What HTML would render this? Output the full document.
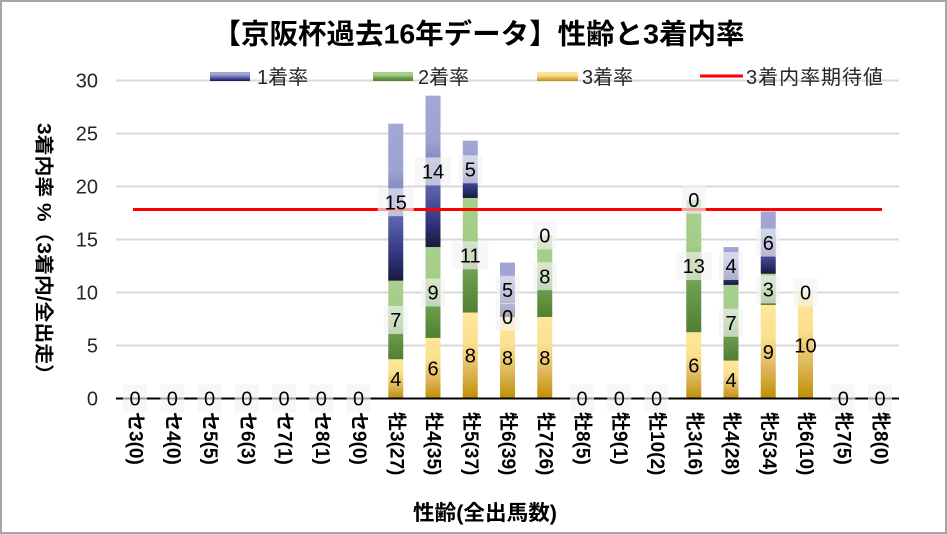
<!DOCTYPE html>
<html>
<head>
<meta charset="utf-8">
<style>
  html,body{margin:0;padding:0;background:#fff;}
  svg{display:block;}
  text{font-family:"Liberation Sans","Noto Sans CJK JP",sans-serif;}
</style>
</head>
<body>
<svg width="947" height="534" viewBox="0 0 947 534" xmlns="http://www.w3.org/2000/svg">
  <defs>
    <linearGradient id="g1" x1="0" y1="0" x2="0" y2="1">
      <stop offset="0" stop-color="#a2a7d6"/>
      <stop offset="0.3" stop-color="#9da2d2"/>
      <stop offset="0.62" stop-color="#5a61a9"/>
      <stop offset="0.85" stop-color="#2f3379"/>
      <stop offset="1" stop-color="#19193a"/>
    </linearGradient>
    <linearGradient id="g2" x1="0" y1="0" x2="0" y2="1">
      <stop offset="0" stop-color="#a9d18e"/>
      <stop offset="0.35" stop-color="#a4cd88"/>
      <stop offset="0.65" stop-color="#6d9e4e"/>
      <stop offset="1" stop-color="#527f33"/>
    </linearGradient>
    <linearGradient id="g3" x1="0" y1="0" x2="0" y2="1">
      <stop offset="0" stop-color="#ffe699"/>
      <stop offset="0.35" stop-color="#fbe08f"/>
      <stop offset="0.7" stop-color="#dcb457"/>
      <stop offset="1" stop-color="#bf9000"/>
    </linearGradient>
  </defs>

  <rect x="0" y="0" width="947" height="534" fill="#fff"/>
  <rect x="1" y="1" width="945" height="532" fill="none" stroke="#a6a6a6" stroke-width="2"/>

  <!-- Title -->
  <text x="478.5" y="43.5" text-anchor="middle" font-size="28" font-weight="bold" fill="#000" textLength="532" lengthAdjust="spacingAndGlyphs">【京阪杯過去16年データ】性齢と3着内率</text>

  <!-- Gridlines -->
  <g stroke="#d9d9d9" stroke-width="2">
    <line x1="116" y1="80.5" x2="899" y2="80.5"/>
    <line x1="116" y1="133.5" x2="899" y2="133.5"/>
    <line x1="116" y1="186.5" x2="899" y2="186.5"/>
    <line x1="116" y1="239.5" x2="899" y2="239.5"/>
    <line x1="116" y1="292.5" x2="899" y2="292.5"/>
    <line x1="116" y1="345.5" x2="899" y2="345.5"/>
  </g>

  <!-- Y tick labels -->
  <g font-size="20" fill="#262626" text-anchor="end">
    <text x="98" y="87.7">30</text>
    <text x="98" y="140.7">25</text>
    <text x="98" y="193.7">20</text>
    <text x="98" y="246.7">15</text>
    <text x="98" y="299.7">10</text>
    <text x="98" y="352.7">5</text>
    <text x="98" y="405.7">0</text>
  </g>

  <!-- Legend -->
  <rect x="210" y="72" width="40" height="9" fill="url(#g1)"/>
  <text x="257" y="84" font-size="20" fill="#262626">1着率</text>
  <rect x="373" y="72" width="40" height="9" fill="url(#g2)"/>
  <text x="418" y="84" font-size="20" fill="#262626">2着率</text>
  <rect x="537" y="72" width="41" height="9" fill="url(#g3)"/>
  <text x="582" y="84" font-size="20" fill="#262626">3着率</text>
  <line x1="700" y1="76" x2="743" y2="76" stroke="#ff0000" stroke-width="3"/>
  <text x="746" y="84" font-size="20" fill="#262626" textLength="137" lengthAdjust="spacing">3着内率期待値</text>

  <!-- Bars -->
  <rect x="388.25" y="359.24" width="15" height="39.26" fill="url(#g3)"/>
  <rect x="388.25" y="280.72" width="15" height="78.52" fill="url(#g2)"/>
  <rect x="388.25" y="123.68" width="15" height="157.04" fill="url(#g1)"/>
  <rect x="425.5" y="337.93" width="15" height="60.57" fill="url(#g3)"/>
  <rect x="425.5" y="247.07" width="15" height="90.86" fill="url(#g2)"/>
  <rect x="425.5" y="95.64" width="15" height="151.43" fill="url(#g1)"/>
  <rect x="462.75" y="312.55" width="15" height="85.95" fill="url(#g3)"/>
  <rect x="462.75" y="197.96" width="15" height="114.59" fill="url(#g2)"/>
  <rect x="462.75" y="140.66" width="15" height="57.30" fill="url(#g1)"/>
  <rect x="500" y="316.96" width="15" height="81.54" fill="url(#g3)"/>
  <rect x="500" y="262.6" width="15" height="54.36" fill="url(#g1)"/>
  <rect x="537.25" y="316.96" width="15" height="81.54" fill="url(#g3)"/>
  <rect x="537.25" y="235.42" width="15" height="81.54" fill="url(#g2)"/>
  <rect x="686.25" y="332.25" width="15" height="66.25" fill="url(#g3)"/>
  <rect x="686.25" y="199.75" width="15" height="132.5" fill="url(#g2)"/>
  <rect x="723.5" y="360.64" width="15" height="37.86" fill="url(#g3)"/>
  <rect x="723.5" y="284.93" width="15" height="75.71" fill="url(#g2)"/>
  <rect x="723.5" y="247.07" width="15" height="37.86" fill="url(#g1)"/>
  <rect x="760.75" y="304.97" width="15" height="93.53" fill="url(#g3)"/>
  <rect x="760.75" y="273.79" width="15" height="31.18" fill="url(#g2)"/>
  <rect x="760.75" y="211.44" width="15" height="62.35" fill="url(#g1)"/>
  <rect x="798" y="292.5" width="15" height="106" fill="url(#g3)"/>

  <!-- X axis line -->
  <line x1="116" y1="398.5" x2="899" y2="398.5" stroke="#000" stroke-width="2"/>

  <!-- Expected value line -->
  <line x1="133" y1="209.5" x2="882" y2="209.5" stroke="#ff0000" stroke-width="3"/>

  <!-- Data label boxes -->
  <g fill="#f2f2f2" fill-opacity="0.65">
    <rect x="123" y="384.5" width="24" height="28"/>
    <rect x="160.25" y="384.5" width="24" height="28"/>
    <rect x="197.5" y="384.5" width="24" height="28"/>
    <rect x="234.75" y="384.5" width="24" height="28"/>
    <rect x="272" y="384.5" width="24" height="28"/>
    <rect x="309.25" y="384.5" width="24" height="28"/>
    <rect x="346.5" y="384.5" width="24" height="28"/>
    <rect x="570" y="384.5" width="24" height="28"/>
    <rect x="607.25" y="384.5" width="24" height="28"/>
    <rect x="644.5" y="384.5" width="24" height="28"/>
    <rect x="831.25" y="384.5" width="24" height="28"/>
    <rect x="868" y="384.5" width="24" height="28"/>
    <rect x="383.75" y="306" width="24" height="28"/>
    <rect x="377.75" y="188.2" width="36" height="28"/>
    <rect x="421" y="278.5" width="24" height="28"/>
    <rect x="415" y="157.4" width="36" height="28"/>
    <rect x="452.25" y="241.3" width="36" height="28"/>
    <rect x="458.25" y="155.3" width="24" height="28"/>
    <rect x="495.5" y="303" width="24" height="28"/>
    <rect x="495.5" y="275.8" width="24" height="28"/>
    <rect x="532.75" y="262.2" width="24" height="28"/>
    <rect x="532.75" y="221.4" width="24" height="28"/>
    <rect x="675.75" y="252" width="36" height="28"/>
    <rect x="681.75" y="185.75" width="24" height="28"/>
    <rect x="719" y="308.8" width="24" height="28"/>
    <rect x="719" y="252" width="24" height="28"/>
    <rect x="756.25" y="275.4" width="24" height="28"/>
    <rect x="756.25" y="228.6" width="24" height="28"/>
    <rect x="793.5" y="278.5" width="24" height="28"/>
  </g>

  <!-- Data label text -->
  <g font-size="20" fill="#000" text-anchor="middle">
    <text x="135" y="405.7">0</text>
    <text x="172.25" y="405.7">0</text>
    <text x="209.5" y="405.7">0</text>
    <text x="246.75" y="405.7">0</text>
    <text x="284" y="405.7">0</text>
    <text x="321.25" y="405.7">0</text>
    <text x="358.5" y="405.7">0</text>
    <text x="582" y="405.7">0</text>
    <text x="619.25" y="405.7">0</text>
    <text x="656.5" y="405.7">0</text>
    <text x="843.25" y="405.7">0</text>
    <text x="880" y="405.7">0</text>

    <text x="395.75" y="386.1">4</text>
    <text x="395.75" y="327.2">7</text>
    <text x="395.75" y="209.4">15</text>

    <text x="433" y="375.4">6</text>
    <text x="433" y="299.7">9</text>
    <text x="433" y="178.6">14</text>

    <text x="470.25" y="362.7">8</text>
    <text x="470.25" y="262.5">11</text>
    <text x="470.25" y="176.5">5</text>

    <text x="507.5" y="364.9">8</text>
    <text x="507.5" y="324.2">0</text>
    <text x="507.5" y="297">5</text>

    <text x="544.75" y="364.9">8</text>
    <text x="544.75" y="283.4">8</text>
    <text x="544.75" y="242.6">0</text>

    <text x="693.75" y="372.6">6</text>
    <text x="693.75" y="273.2">13</text>
    <text x="693.75" y="206.95">0</text>

    <text x="731" y="386.8">4</text>
    <text x="731" y="330">7</text>
    <text x="731" y="273.2">4</text>

    <text x="768.25" y="358.9">9</text>
    <text x="768.25" y="296.6">3</text>
    <text x="768.25" y="249.8">6</text>

    <text x="805.5" y="352.7">10</text>
    <text x="805.5" y="299.7">0</text>
  </g>

  <!-- X category labels -->
  <g font-size="19" font-weight="bold" fill="#000" dominant-baseline="central">
    <text transform="translate(135,412) rotate(90)">セ3(0)</text>
    <text transform="translate(172.25,412) rotate(90)">セ4(0)</text>
    <text transform="translate(209.5,412) rotate(90)">セ5(5)</text>
    <text transform="translate(246.75,412) rotate(90)">セ6(3)</text>
    <text transform="translate(284,412) rotate(90)">セ7(1)</text>
    <text transform="translate(321.25,412) rotate(90)">セ8(1)</text>
    <text transform="translate(358.5,412) rotate(90)">セ9(0)</text>
    <text transform="translate(395.75,412) rotate(90)">牡3(27)</text>
    <text transform="translate(433,412) rotate(90)">牡4(35)</text>
    <text transform="translate(470.25,412) rotate(90)">牡5(37)</text>
    <text transform="translate(507.5,412) rotate(90)">牡6(39)</text>
    <text transform="translate(544.75,412) rotate(90)">牡7(26)</text>
    <text transform="translate(582,412) rotate(90)">牡8(5)</text>
    <text transform="translate(619.25,412) rotate(90)">牡9(1)</text>
    <text transform="translate(656.5,412) rotate(90)">牡10(2)</text>
    <text transform="translate(693.75,412) rotate(90)">牝3(16)</text>
    <text transform="translate(731,412) rotate(90)">牝4(28)</text>
    <text transform="translate(768.25,412) rotate(90)">牝5(34)</text>
    <text transform="translate(805.5,412) rotate(90)">牝6(10)</text>
    <text transform="translate(842.75,412) rotate(90)">牝7(5)</text>
    <text transform="translate(880,412) rotate(90)">牝8(0)</text>
  </g>

  <!-- Y axis title -->
  <text transform="translate(43,254) rotate(90)" text-anchor="middle" dominant-baseline="central" font-size="19" font-weight="bold" fill="#000" textLength="262" lengthAdjust="spacingAndGlyphs">3着内率 %（3着内/全出走）</text>

  <!-- X axis title -->
  <text x="485" y="520" text-anchor="middle" font-size="21" font-weight="bold" fill="#000" textLength="144" lengthAdjust="spacingAndGlyphs">性齢(全出馬数)</text>
</svg>
</body>
</html>
